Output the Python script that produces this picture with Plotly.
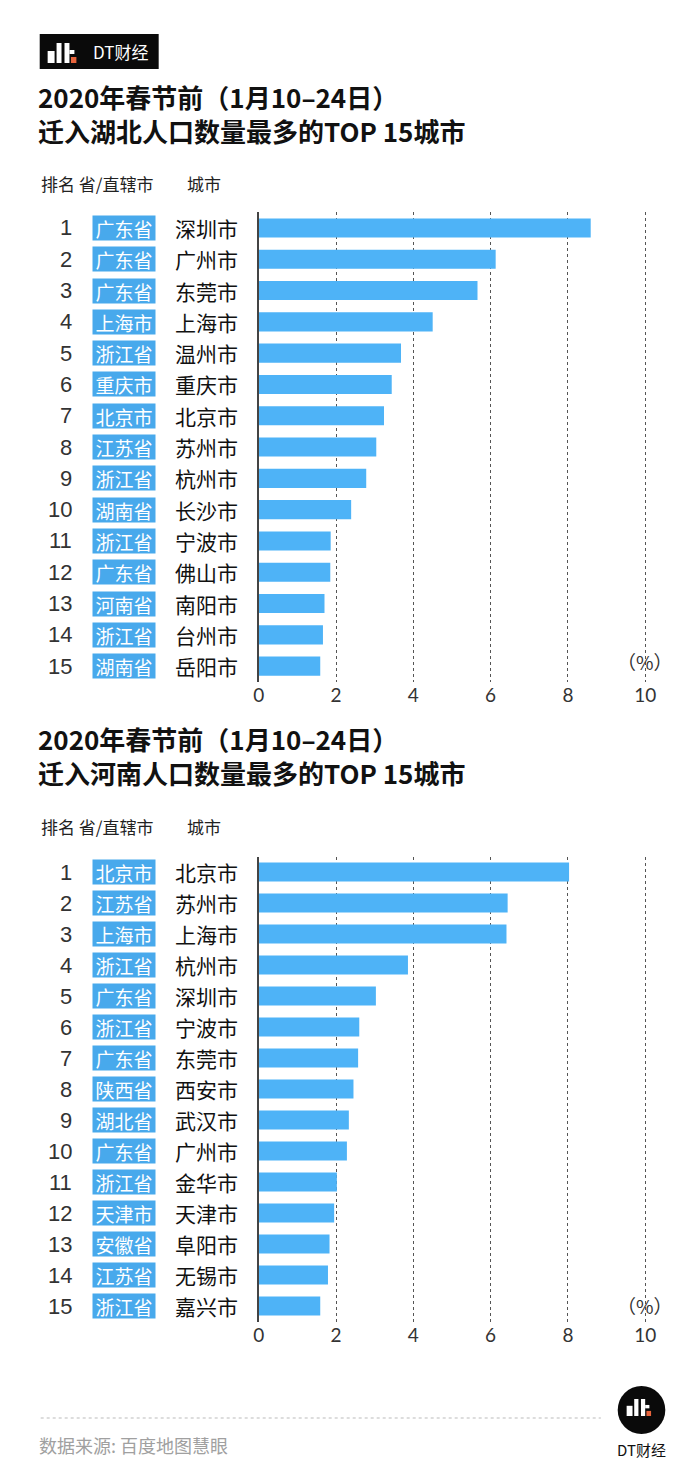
import plotly.graph_objects as go

# ---------------- data ----------------
ranks = list(range(1, 16))
tick_vals = [0, 2, 4, 6, 8, 10]
tick_text = ["0", "2", "4", "6", "8", "10"]

hubei_title = ["2020年春节前（1月10–24日）", "迁入湖北人口数量最多的TOP 15城市"]
hubei_provinces = ["广东省", "广东省", "广东省", "上海市", "浙江省", "重庆市", "北京市", "江苏省",
                   "浙江省", "湖南省", "浙江省", "广东省", "河南省", "浙江省", "湖南省"]
hubei_cities = ["深圳市", "广州市", "东莞市", "上海市", "温州市", "重庆市", "北京市", "苏州市",
                "杭州市", "长沙市", "宁波市", "佛山市", "南阳市", "台州市", "岳阳市"]
hubei_values = [8.59, 6.13, 5.66, 4.50, 3.68, 3.44, 3.24, 3.04, 2.78, 2.39, 1.86, 1.85, 1.70, 1.66, 1.59]

henan_title = ["2020年春节前（1月10–24日）", "迁入河南人口数量最多的TOP 15城市"]
henan_provinces = ["北京市", "江苏省", "上海市", "浙江省", "广东省", "浙江省", "广东省", "陕西省",
                   "湖北省", "广东省", "浙江省", "天津市", "安徽省", "江苏省", "浙江省"]
henan_cities = ["北京市", "苏州市", "上海市", "杭州市", "深圳市", "宁波市", "东莞市", "西安市",
                "武汉市", "广州市", "金华市", "天津市", "阜阳市", "无锡市", "嘉兴市"]
henan_values = [8.03, 6.44, 6.41, 3.86, 3.03, 2.60, 2.57, 2.45, 2.33, 2.28, 2.02, 1.95, 1.83, 1.79, 1.59]

header_left = "排名 省/直辖市"
header_city = "城市"
unit_label = "（%）"
source_text = "数据来源: 百度地图慧眼"
brand = "DT财经"

# ---------------- style ----------------
W, H = 700, 1468
BAR = "#4EB3F7"
BOX = "#48A9EC"
CJK = "Noto Sans CJK SC"
DARK = "#222222"


def px(x):
    return x / W


def py(y):
    return 1 - y / H


fig = go.Figure()

panels = [
    dict(title=hubei_title, prov=hubei_provinces, city=hubei_cities, val=hubei_values,
         xa="x", ya="y", top=212.3, bottom=681.8, tmid=114, hdr=183, unit=662),
    dict(title=henan_title, prov=henan_provinces, city=henan_cities, val=henan_values,
         xa="x2", ya="y2", top=856.5, bottom=1321.5, tmid=755.5, hdr=826, unit=1305),
]

annotations = []
shapes = []

for i, p in enumerate(panels):
    fig.add_trace(go.Bar(
        x=p["val"], y=p["city"], orientation="h",
        marker=dict(color=BAR, line=dict(width=0)),
        xaxis=p["xa"], yaxis=p["ya"], hoverinfo="x+y", showlegend=False,
    ))
    sfx = "" if i == 0 else "2"
    xaxis = dict(
        domain=[px(255), px(664.2)], range=[0, 10.5], anchor=p["ya"],
        tickmode="array", tickvals=tick_vals, ticktext=tick_text,
        showgrid=True, gridcolor="#555555", gridwidth=1, griddash="3px,3px",
        zeroline=False, showline=False, ticks="",
        tickfont=dict(family="Lato", size=19, color="#333333"),
        fixedrange=True,
    )
    yaxis = dict(
        domain=[py(p["bottom"]), py(p["top"])], anchor=p["xa"],
        type="category", categoryorder="array", categoryarray=p["city"],
        range=[14.5, -0.5], showticklabels=False, ticks="",
        showline=True, linecolor="#444444", linewidth=1.5,
        showgrid=False, zeroline=False, fixedrange=True,
    )
    fig.update_layout(**{"xaxis" + sfx: xaxis, "yaxis" + sfx: yaxis})

    # title (two lines in one text)
    annotations.append(dict(text="<br>".join(p["title"]), xref="paper", yref="paper",
                            x=px(31), y=py(p["tmid"]), xanchor="left", yanchor="middle",
                            align="left", showarrow=False, borderpad=0,
                            font=dict(family=CJK, size=26, color="#111111", weight="bold")))
    # headers
    annotations.append(dict(text=header_left, xref="paper", yref="paper", x=px(33), y=py(p["hdr"]),
                            xanchor="left", yanchor="middle", showarrow=False,
                            font=dict(family=CJK, size=17, color=DARK)))
    annotations.append(dict(text=header_city, xref="paper", yref="paper", x=px(181), y=py(p["hdr"]),
                            xanchor="left", yanchor="middle", showarrow=False,
                            font=dict(family=CJK, size=17, color=DARK)))
    # unit
    annotations.append(dict(text=unit_label, xref=p["xa"], yref="paper", x=10, y=py(p["unit"]),
                            xanchor="center", yanchor="middle", showarrow=False,
                            font=dict(family=CJK, size=19, color="#333333")))
    # row labels
    for r, prov, city in zip(ranks, p["prov"], p["city"]):
        annotations.append(dict(text=str(r), xref="paper", yref=p["ya"], x=px(69), y=city,
                                xanchor="right", yanchor="middle", showarrow=False,
                                font=dict(family="Liberation Sans", size=22, color="#333333")))
        annotations.append(dict(text=prov, xref="paper", yref=p["ya"], x=px(119), y=city,
                                xanchor="center", yanchor="middle", showarrow=False,
                                width=60, height=22, bgcolor=BOX, borderpad=1,
                                font=dict(family=CJK, size=19, color="#ffffff")))
        annotations.append(dict(text=city, xref="paper", yref=p["ya"], x=px(168), y=city,
                                xanchor="left", yanchor="middle", showarrow=False,
                                font=dict(family=CJK, size=21, color="#111111")))


def logo_glyph(x0, y0, s=1.0):
    """dt glyph made of blocks; x0,y0 top-left in pixels"""
    rects = [
        (0, 8, 7, 20, "white"),
        (9, 0, 14, 20, "white"),
        (17, 0, 22, 20, "white"),
        (22, 7, 27, 11, "white"),
        (23.5, 14, 29, 20, "#E8643C"),
    ]
    out = []
    for a, b, c, d, col in rects:
        out.append(dict(type="rect", xref="paper", yref="paper",
                        x0=px(x0 + a * s), x1=px(x0 + c * s), y0=py(y0 + b * s), y1=py(y0 + d * s),
                        fillcolor=col, line=dict(width=0), layer="above"))
    return out


# top-left brand box
shapes.append(dict(type="rect", xref="paper", yref="paper", x0=px(34), x1=px(154), y0=py(34), y1=py(69),
                   fillcolor="#0a0a0a", line=dict(width=0), layer="above"))
shapes += logo_glyph(42, 43, 1.0)
annotations.append(dict(text=brand, xref="paper", yref="paper", x=px(115), y=py(52),
                        xanchor="center", yanchor="middle", showarrow=False,
                        font=dict(family=CJK, size=17, color="#ffffff")))

# footer
shapes.append(dict(type="line", xref="paper", yref="paper", x0=px(35), x1=px(600), y0=py(1418), y1=py(1418),
                   line=dict(color="#bbbbbb", width=1, dash="dot")))
annotations.append(dict(text=source_text, xref="paper", yref="paper", x=px(31), y=py(1445),
                        xanchor="left", yanchor="middle", showarrow=False,
                        font=dict(family=CJK, size=18, color="#a0a0a0")))
shapes.append(dict(type="circle", xref="paper", yref="paper", x0=px(617), x1=px(665), y0=py(1386), y1=py(1434),
                   fillcolor="#0a0a0a", line=dict(width=0), layer="above"))
shapes += logo_glyph(626, 1399, 0.85)
annotations.append(dict(text=brand, xref="paper", yref="paper", x=px(641), y=py(1449),
                        xanchor="center", yanchor="middle", showarrow=False,
                        font=dict(family=CJK, size=15, color="#111111")))

fig.update_layout(
    width=W, height=H, margin=dict(l=0, r=0, t=0, b=0),
    paper_bgcolor="white", plot_bgcolor="white",
    bargap=0.39, showlegend=False,
    annotations=annotations, shapes=shapes,
)

fig.write_html("out.html", config={"displayModeBar": False},
               post_script="document.body.style.margin='0';document.body.style.overflow='hidden';")
